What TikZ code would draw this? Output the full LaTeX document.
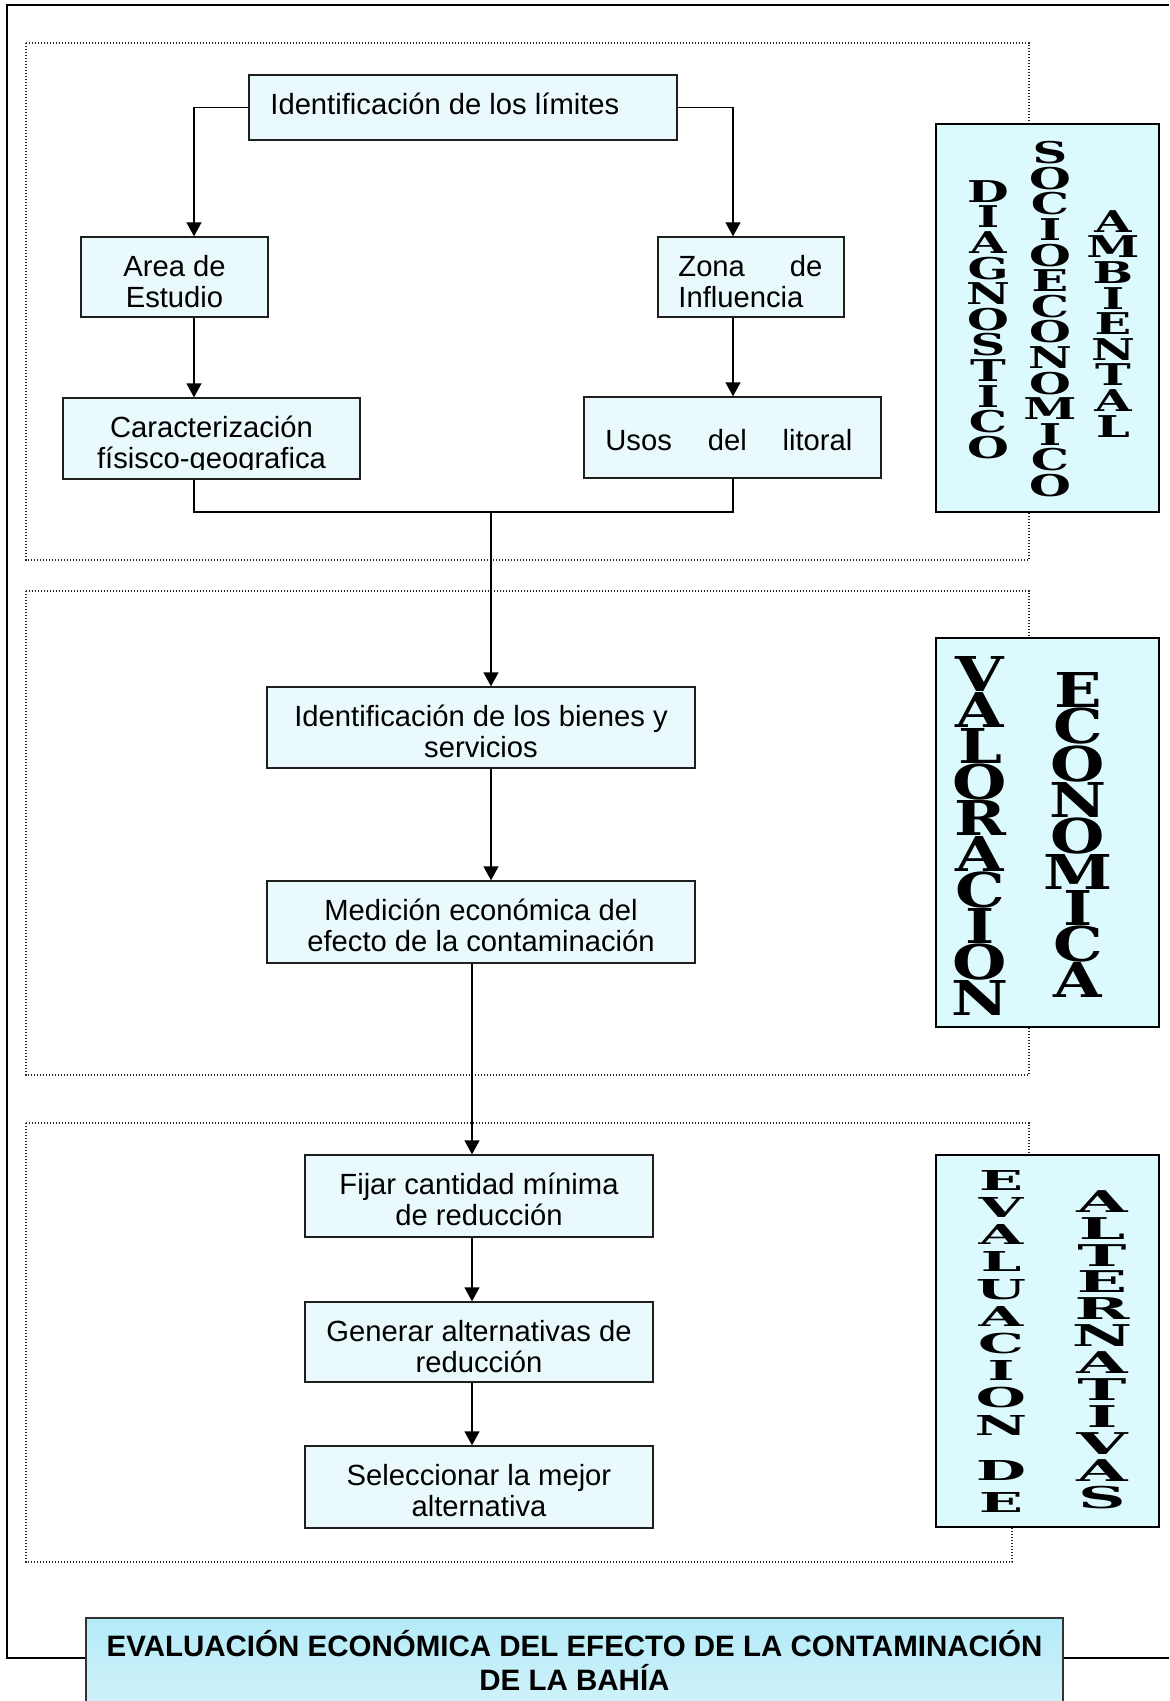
\documentclass[tikz,border=0pt]{standalone}
\usepackage{fontspec}
\setmainfont{Liberation Sans}
\newfontfamily\sideA{DejaVu Serif}[FakeStretch=1.6]
\newfontfamily\sideB{DejaVu Serif}[FakeStretch=1.3]
\newfontfamily\sideC{DejaVu Serif}[FakeStretch=2.1]
\newfontfamily\sideD{DejaVu Serif}[FakeStretch=2.2]
\usetikzlibrary{arrows.meta}
\definecolor{boxfill}{HTML}{EAF9FC}
\definecolor{sidefill}{HTML}{DCFAFD}
\definecolor{titletop}{HTML}{B3EBF8}
\definecolor{titlebot}{HTML}{D6F3F9}
\newcommand\tstrut{\rule{0pt}{14pt}}
\tikzset{
  mbox/.style={draw=black!88, line width=0.7pt, fill=boxfill, inner sep=0pt},
  sbox/.style={draw=black, line width=1.1pt, fill=sidefill, inner sep=0pt, minimum width=111.5pt},
  txt/.style={inner sep=0pt, align=center, font=\fontsize{14.6}{15.5}\selectfont},
  scol/.style={inner sep=0pt, anchor=north, align=center},
  lineonly/.style={line width=0.7pt, draw=black},
  conn/.style={lineonly, -{Triangle[length=7pt,width=7.5pt]}},
  dotsec/.style={draw=black!85, line width=0.6pt, dash pattern=on 0.6pt off 0.9pt},
  frameline/.style={draw=black, line width=1pt}
}
\begin{document}
\begin{tikzpicture}[x=0.5pt,y=-0.5pt]
\clip (0,0) rectangle (1169,1701);
\fill[white] (0,0) rectangle (1169,1701);
% outer frame
\draw[frameline] (1169,5) -- (7,5) -- (7,1658) -- (1169,1658);
% dotted sections
\draw[dotsec] (26,43) rectangle (1029,560);
\draw[dotsec] (26,591) rectangle (1029,1075);
\draw[dotsec] (26,1123) -- (1029,1123) -- (1029,1340) -- (1012,1340) -- (1012,1562) -- (26,1562) -- cycle;
% side boxes
\node[sbox, minimum height=194pt] (s1) at (1047.5,318) {};
\node[sbox, minimum height=194.5pt] (s2) at (1047.5,832.5) {};
\node[sbox, minimum height=186pt] (s3) at (1047.5,1341) {};
\node[scol, font=\sideA\bfseries\fontsize{15}{12.8}\selectfont] (sd1) at (988,180) {D\\I\\A\\G\\N\\O\\S\\T\\I\\C\\O};
\node[scol, font=\sideA\bfseries\fontsize{15}{12.8}\selectfont] (sd2) at (1050,141) {S\\O\\C\\I\\O\\E\\C\\O\\N\\O\\M\\I\\C\\O};
\node[scol, font=\sideA\bfseries\fontsize{15}{12.8}\selectfont] (sd3) at (1113,210) {A\\M\\B\\I\\E\\N\\T\\A\\L};
\node[scol, font=\sideB\bfseries\fontsize{24}{18}\selectfont] (sv1) at (980,656) {V\\A\\L\\O\\R\\A\\C\\I\\O\\N};
\node[scol, font=\sideB\bfseries\fontsize{24}{18}\selectfont] (sv2) at (1078,672) {E\\C\\O\\N\\O\\M\\I\\C\\A};
\node[scol, font=\sideC\bfseries\fontsize{13.7}{13.6}\selectfont] (se1) at (1001,1170) {E\\V\\A\\L\\U\\A\\C\\I\\O\\N};
\node[scol, font=\sideC\bfseries\fontsize{13.7}{15.85}\selectfont] (se2) at (1001,1460) {D\\E};
\node[scol, font=\sideD\bfseries\fontsize{15}{13.45}\selectfont] (se3) at (1102,1190) {A\\L\\T\\E\\R\\N\\A\\T\\I\\V\\A\\S};
% main boxes
\node[mbox, minimum width=214pt, minimum height=32.5pt] (b1) at (463,107.5) {};
\node[mbox, minimum width=93.5pt, minimum height=40pt] (b2) at (174.5,277) {};
\node[mbox, minimum width=93pt, minimum height=40pt] (b3) at (751,277) {};
\node[mbox, minimum width=148.5pt, minimum height=40.5pt] (b4) at (211.5,438.5) {};
\node[mbox, minimum width=148.5pt, minimum height=40.5pt] (b5) at (732.5,437.5) {};
\node[mbox, minimum width=214pt, minimum height=40.5pt] (b6) at (481,727.5) {};
\node[mbox, minimum width=214pt, minimum height=41pt] (b7) at (481,922) {};
\node[mbox, minimum width=174pt, minimum height=41pt] (b8) at (479,1196) {};
\node[mbox, minimum width=174pt, minimum height=40pt] (b9) at (479,1342) {};
\node[mbox, minimum width=174pt, minimum height=41pt] (b10) at (479,1487) {};
% texts
\node[txt, anchor=north west] (t1) at (270,86) {\tstrut Identificación de los límites};
\begin{scope}\clip (81,237) rectangle (268,308);
\node[txt, anchor=north] (t2) at (174.5,248) {\tstrut Area de\\Estudio};
\end{scope}
\begin{scope}\clip (658,237) rectangle (844,308);
\node[txt, anchor=north west, text width=72pt, align=left] (t3) at (678,248) {\tstrut Zona\hfill de\\Influencia};
\end{scope}
\begin{scope}\clip (63,398) rectangle (360,469);
\node[txt, anchor=north] (t4) at (211.5,409) {\tstrut Caracterización\\físisco-geografica};
\end{scope}
\node[txt, anchor=north west, text width=123.5pt, align=left] (t5) at (605,422) {\tstrut Usos\hfill del\hfill litoral};
\begin{scope}\clip (267,687) rectangle (695,758);
\node[txt, anchor=north] (t6) at (481,698) {\tstrut Identificación de los bienes y\\servicios};
\end{scope}
\begin{scope}\clip (267,881) rectangle (695,952);
\node[txt, anchor=north] (t7) at (481,892) {\tstrut Medición económica del\\efecto de la contaminación};
\end{scope}
\begin{scope}\clip (305,1155) rectangle (653,1226);
\node[txt, anchor=north] (t8) at (479,1166) {\tstrut Fijar cantidad mínima\\de reducción};
\end{scope}
\begin{scope}\clip (305,1302) rectangle (653,1373);
\node[txt, anchor=north] (t9) at (479,1313) {\tstrut Generar alternativas de\\reducción};
\end{scope}
\begin{scope}\clip (305,1446) rectangle (653,1517);
\node[txt, anchor=north] (t10) at (479,1457) {\tstrut Seleccionar la mejor\\alternativa};
\end{scope}
% connectors
\coordinate (xL) at (194,0);
\coordinate (xR) at (733,0);
\coordinate (m) at (491,512);
\coordinate (xM) at (472,0);
\draw[conn] (b1.west) -| (b2.north -| xL);
\draw[conn] (b1.east) -| (b3.north -| xR);
\draw[conn] (b2.south -| xL) -- (b4.north -| xL);
\draw[conn] (b3.south -| xR) -- (b5.north -| xR);
\draw[lineonly] (b4.south -| xL) |- (m) -| (b5.south -| xR);
\draw[conn] (m) -- (b6.north -| m);
\draw[conn] (b6.south -| m) -- (b7.north -| m);
\draw[conn] (b7.south -| xM) -- (b8.north -| xM);
\draw[conn] (b8.south -| xM) -- (b9.north -| xM);
\draw[conn] (b9.south -| xM) -- (b10.north -| xM);
% title
\node[draw=black!80, line width=1pt, top color=titletop, bottom color=titlebot, inner sep=0pt, minimum width=488.5pt, minimum height=51pt] (title) at (574.5,1669) {};
\node[inner sep=0pt, anchor=north, align=center, font=\bfseries\fontsize{14.75}{17}\selectfont] (titlet) at (574.5,1628) {\tstrut EVALUACIÓN ECONÓMICA DEL EFECTO DE LA CONTAMINACIÓN\\DE LA BAHÍA};
\end{tikzpicture}
\end{document}
